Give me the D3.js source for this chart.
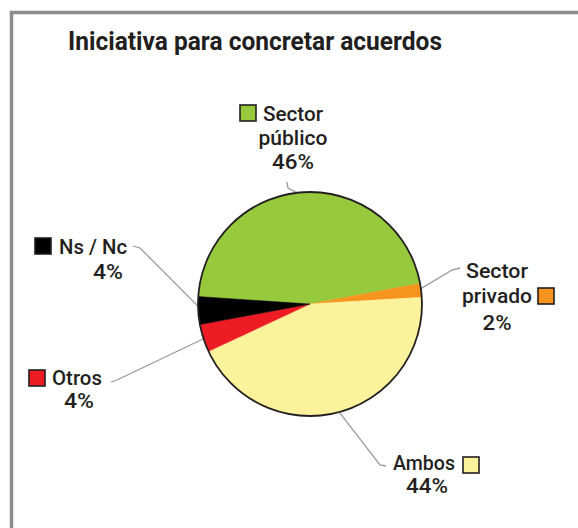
<!DOCTYPE html>
<html>
<head>
<meta charset="utf-8">
<script src="https://cdn.jsdelivr.net/npm/d3@7"></script>
<style>
  html, body { margin: 0; padding: 0; background: #fff; }
  svg { display: block; }
  text { font-family: Roboto, "Liberation Sans", Arial, sans-serif; fill: #231f20; }
</style>
</head>
<body>
<svg id="chart" width="578" height="528"></svg>
<script>
// ---- data ----
const title = "Iniciativa para concretar acuerdos";
const categories = ["Sector público", "Sector privado", "Ambos", "Otros", "Ns / Nc"];
const labelLines = [["Sector", "público"], ["Sector", "privado"], ["Ambos"], ["Otros"], ["Ns / Nc"]];
const values = [46, 2, 44, 4, 4];
const colors = ["#97c93d", "#f7941d", "#fcf29b", "#ed1c24", "#000000"];

// ---- layout (positions only) ----
const W = 578, H = 528;
const cx = 310, cy = 304, R = 112;
const startDeg = -86.2;
const labelLayout = [
  { cx: 293, base: [121, 145, 169], widths: [60, 69, 42], box: [240, 105], elbow: [[288, 188], [287, 182]] },
  { cx: 497, base: [278, 303, 330], widths: [62, 70, 29], box: [538, 288], elbow: [[452, 270], [460, 268]] },
  { cx: [424, 427], base: [470, 493], widths: [62, 42], box: [463, 457], elbow: [[380, 465], [386, 466]] },
  { cx: [77, 79], base: [385, 408], widths: [50, 30], box: [29, 370], elbow: [[117, 380], [111, 382]] },
  { cx: [93, 108], base: [254, 279], widths: [68, 30], box: [35, 238], elbow: [[140, 248], [133, 246]] }
];

const svg = d3.select("#chart");

// frame
svg.append("path")
  .attr("d", `M11.5,${H} L11.5,12.5 L${W},12.5`)
  .attr("fill", "none")
  .attr("stroke", "#8c8c8c")
  .attr("stroke-width", 3.5);

// title
svg.append("text")
  .attr("x", 68).attr("y", 50)
  .attr("font-size", 26).attr("font-weight", "bold")
  .attr("textLength", 374).attr("lengthAdjust", "spacingAndGlyphs")
  .text(title);

const rad = d => d * Math.PI / 180;
const pie = d3.pie().sort(null).value(d => d)
  .startAngle(rad(startDeg)).endAngle(rad(startDeg) + 2 * Math.PI);
const arcs = pie(values);
const arc = d3.arc().innerRadius(0).outerRadius(R);

// leader lines (drawn below pie)
const leaders = svg.append("g");
arcs.forEach((a, i) => {
  const m = (a.startAngle + a.endAngle) / 2;
  const p0 = [cx + (R - 4) * Math.sin(m), cy - (R - 4) * Math.cos(m)];
  const pts = [p0].concat(labelLayout[i].elbow);
  leaders.append("path")
    .attr("d", d3.line()(pts))
    .attr("fill", "none")
    .attr("stroke", "#9a9a9a")
    .attr("stroke-width", 1.3);
});

const g = svg.append("g").attr("transform", `translate(${cx},${cy})`);

g.selectAll("path.slice")
  .data(arcs)
  .join("path")
  .attr("class", "slice")
  .attr("d", arc)
  .attr("fill", (d, i) => colors[i])
  .attr("stroke", (d, i) => colors[i])
  .attr("stroke-width", 0.5);

g.append("circle")
  .attr("r", R)
  .attr("fill", "none")
  .attr("stroke", "#231f20")
  .attr("stroke-width", 1.8);

// labels
categories.forEach((c, i) => {
  const L = labelLayout[i];
  const lines = labelLines[i].concat([values[i] + "%"]);
  lines.forEach((t, j) => {
    const x = Array.isArray(L.cx) ? L.cx[j] : L.cx;
    svg.append("text")
      .attr("x", x).attr("y", L.base[j])
      .attr("text-anchor", "middle")
      .attr("font-size", 21)
      .attr("font-weight", 500)
      .attr("textLength", L.widths[j]).attr("lengthAdjust", "spacingAndGlyphs")
      .text(t);
  });
  svg.append("rect")
    .attr("x", L.box[0]).attr("y", L.box[1])
    .attr("width", 16).attr("height", 16)
    .attr("fill", colors[i])
    .attr("stroke", "#231f20")
    .attr("stroke-width", 1.6);
});
</script>
</body>
</html>
